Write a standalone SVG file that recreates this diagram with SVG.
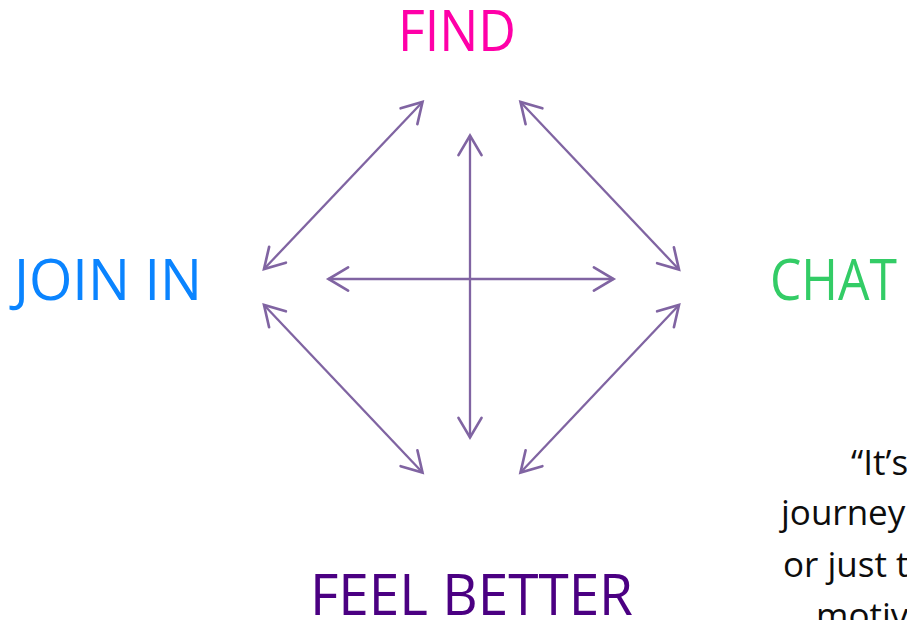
<svg xmlns="http://www.w3.org/2000/svg" width="907" height="620" viewBox="0 0 907 620">
<style>
.lbl{font-family:"Open Sans","Noto Sans","Liberation Sans",sans-serif;font-size:56px}
.q{font-family:"Open Sans","Noto Sans","Liberation Sans",sans-serif;font-size:35px;fill:#0d0d0d}
.c{stroke:#8064A2;stroke-width:2.3;fill:none;marker-start:url(#ah);marker-end:url(#ah)}
</style>
<defs>
<marker id="ah" markerUnits="userSpaceOnUse" orient="auto-start-reverse" markerWidth="30" markerHeight="30" refX="0" refY="0" viewBox="-22 -13 25 26" overflow="visible">
<path d="M-17,-10 L0,0 L-17,10" fill="none" stroke="#8064A2" stroke-width="2.3" stroke-linecap="round" stroke-linejoin="miter"/>
</marker>
</defs>
<rect width="907" height="620" fill="#ffffff"/>
<g id="connectors">
<line class="c" x1="422.5" y1="102" x2="264" y2="269"/>
<line class="c" x1="520.5" y1="102" x2="679" y2="269.5"/>
<line class="c" x1="264" y1="305" x2="422.5" y2="472.5"/>
<line class="c" x1="679" y1="305" x2="520.5" y2="472.5"/>
<line class="c" x1="328.5" y1="279" x2="613.5" y2="279"/>
<line class="c" x1="470" y1="135.5" x2="470" y2="437.5"/>
</g>
<g id="find"><text class="lbl" x="398" y="51" fill="#FF00A8" textLength="118" lengthAdjust="spacingAndGlyphs">FIND</text></g>
<g id="join-in"><text class="lbl" x="14" y="300" fill="#0A84FF" textLength="188" lengthAdjust="spacingAndGlyphs">JOIN IN</text></g>
<g id="chat"><text class="lbl" x="770" y="300" fill="#33CC66" textLength="127" lengthAdjust="spacingAndGlyphs">CHAT</text></g>
<g id="feel-better"><text class="lbl" x="310" y="615" fill="#4B0082" textLength="323" lengthAdjust="spacingAndGlyphs">FEEL BETTER</text></g>
<g id="quote">
<text class="q" x="851" y="475">“It’s</text>
<text class="q" x="781" y="525">journey</text>
<text class="q" x="783" y="577">or just t</text>
<text class="q" x="816" y="628">motiv</text>
</g>
</svg>
